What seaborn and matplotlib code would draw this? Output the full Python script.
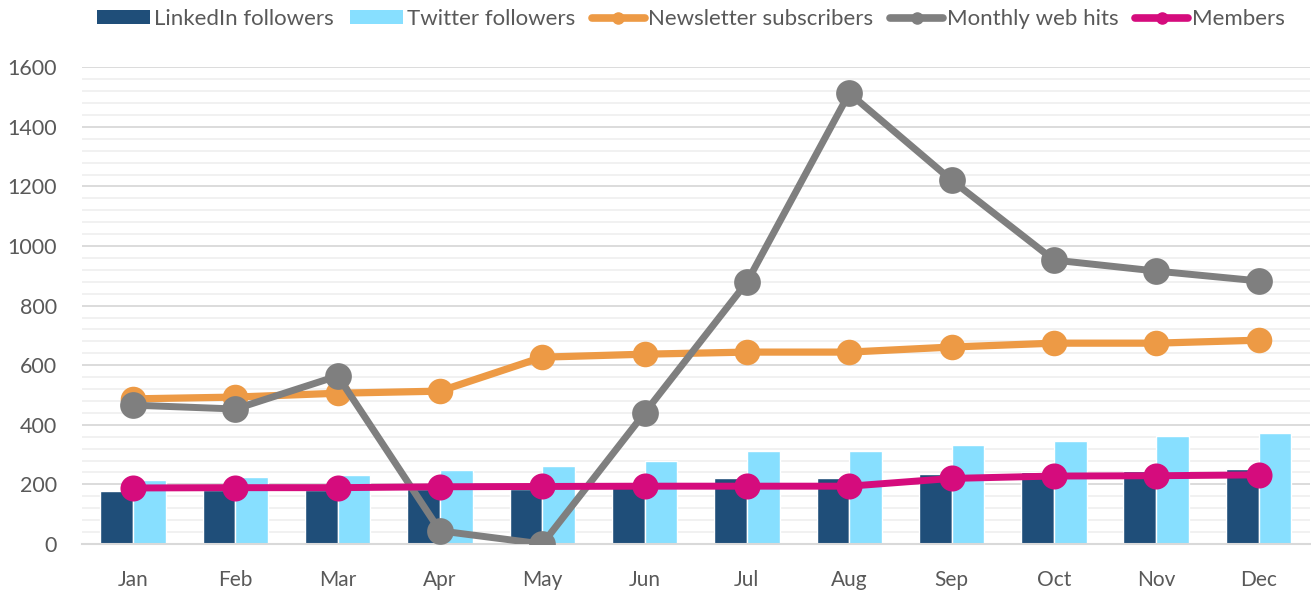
import numpy as np
import pandas as pd
import matplotlib
matplotlib.use("Agg")
import matplotlib.pyplot as plt
from matplotlib.patches import Patch
from matplotlib.lines import Line2D
from matplotlib.ticker import MultipleLocator, FixedLocator
import seaborn as sns

months = ["Jan", "Feb", "Mar", "Apr", "May", "Jun", "Jul", "Aug", "Sep", "Oct", "Nov", "Dec"]
linkedin = [178, 180, 182, 184, 186, 200, 222, 222, 235, 242, 245, 252]
twitter = [215, 225, 233, 248, 263, 277, 313, 313, 332, 345, 362, 373]
newsletter = [487, 493, 506, 513, 627, 637, 644, 644, 661, 674, 674, 684]
web_hits = [466, 453, 564, 44, 0, 440, 879, 1513, 1221, 953, 916, 883]
members = [188, 189, 189, 192, 193, 194, 194, 194, 220, 228, 229, 232]

C_LI = "#1F4E79"
C_TW = "#87DFFF"
C_NL = "#ED9A45"
C_WH = "#7F7F7F"
C_MB = "#D50C7D"
TXT = "#595959"

sns.set_theme(style="white")
plt.rcParams["font.family"] = ["Lato", "DejaVu Sans"]

fig = plt.figure(figsize=(13.11, 5.90), dpi=100)
ax = fig.add_axes([0.0625, 0.078, 0.9365, 0.808])

bars = pd.DataFrame({
    "month": months * 2,
    "value": linkedin + twitter,
    "series": ["LinkedIn followers"] * 12 + ["Twitter followers"] * 12,
})
sns.barplot(data=bars, x="month", y="value", hue="series", order=months,
            palette=[C_LI, C_TW], width=0.64, saturation=1, ax=ax, legend=False,
            zorder=2)

def draw_line(vals, color, ms, lw):
    df = pd.DataFrame({"month": months, "value": vals})
    sns.pointplot(data=df, x="month", y="value", order=months, color=color,
                  markers="o", markersize=ms, linewidth=lw, ax=ax, zorder=4)

draw_line(newsletter, C_NL, 14.5, 5.2)
draw_line(web_hits, C_WH, 15.5, 5.0)
draw_line(members, C_MB, 15, 5.0)

ax.set_xlim(-0.5, 11.5)
ax.set_ylim(0, 1600)
ax.set_xlabel("")
ax.set_ylabel("")
ax.yaxis.set_major_locator(MultipleLocator(200))
ax.yaxis.set_minor_locator(MultipleLocator(40))
ax.grid(which="major", axis="y", color="#D9D9D9", linewidth=1.3, zorder=0)
ax.grid(which="minor", axis="y", color="#F0F0F0", linewidth=1.3, zorder=0)
ax.grid(axis="x", visible=False)
ax.set_axisbelow(True)

for s in ["top", "right", "left"]:
    ax.spines[s].set_visible(False)
ax.spines["bottom"].set_color("#D9D9D9")
ax.spines["bottom"].set_linewidth(1.5)

ax.xaxis.set_minor_locator(FixedLocator(np.arange(-0.5, 12, 1.0)))
ax.tick_params(axis="x", which="major", length=0, pad=19, labelsize=15, labelcolor=TXT)
ax.tick_params(axis="x", which="minor", length=8, width=1.5, color="#D9D9D9", direction="out")
ax.tick_params(axis="y", which="both", length=0, pad=18, labelsize=15.5, labelcolor=TXT)

handles = [
    Patch(facecolor=C_LI, edgecolor="none"),
    Patch(facecolor=C_TW, edgecolor="none"),
    Line2D([], [], color=C_NL, lw=5.5, marker="o", markersize=8, solid_capstyle="round"),
    Line2D([], [], color=C_WH, lw=5.5, marker="o", markersize=8, solid_capstyle="round"),
    Line2D([], [], color=C_MB, lw=5.5, marker="o", markersize=8, solid_capstyle="round"),
]
labels = ["LinkedIn followers", "Twitter followers", "Newsletter subscribers",
          "Monthly web hits", "Members"]
leg = fig.legend(handles, labels, loc="center left",
                 bbox_to_anchor=(97 / 1311, 1 - 19 / 590),
                 ncol=5, frameon=False, fontsize=16, handlelength=2.4,
                 handleheight=0.6, handletextpad=0.15, columnspacing=0.75,
                 borderpad=0, borderaxespad=0)
for t in leg.get_texts():
    t.set_color(TXT)

fig.savefig("out.png", dpi=100)
